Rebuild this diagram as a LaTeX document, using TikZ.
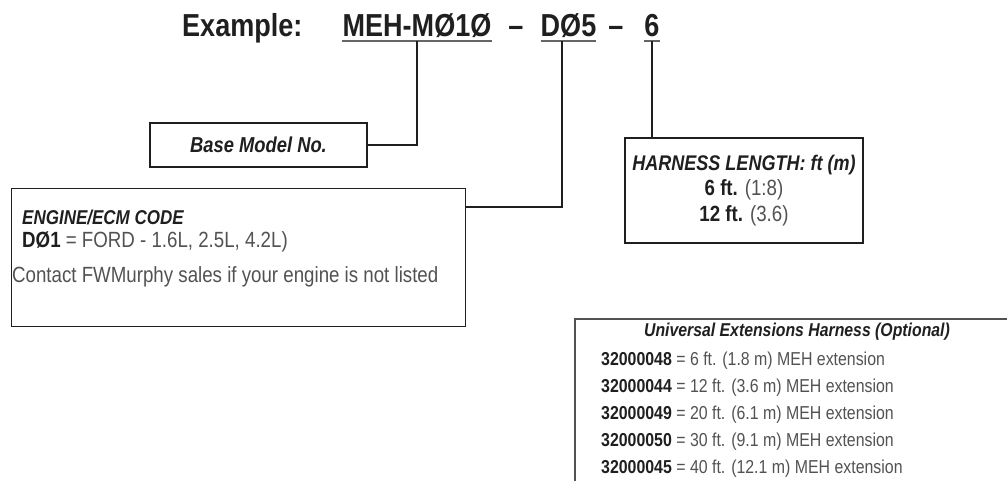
\documentclass[tikz,border=0pt]{standalone}
\usepackage{fontspec}
\setmainfont{Liberation Sans}[FakeStretch=0.85]
\usepackage{tikz}
\usetikzlibrary{calc}
\definecolor{ink}{gray}{0.12}
\definecolor{soft}{gray}{0.32}
\definecolor{rule}{gray}{0.40}
\newcommand{\partno}[1]{\textcolor{ink}{\bfseries #1}}
\tikzset{
  codetxt/.style={font=\fontsize{31.8}{36}\selectfont\bfseries, text=ink,
                  inner xsep=0pt, inner ysep=4pt, text depth=0pt},
  box/.style={draw=ink, line width=1.4pt, inner sep=0pt, align=center},
  xbox/.style={draw=soft, line width=2.2pt, inner sep=0pt},
  hdr/.style={font=\fontsize{20}{24}\selectfont\bfseries\itshape, text=ink, inner sep=0pt},
  txt/.style={font=\fontsize{22}{26}\selectfont, text=soft, inner sep=0pt},
  rowtxt/.style={font=\fontsize{18.7}{22}\selectfont, text=soft, inner sep=0pt, anchor=base west},
  wire/.style={draw=ink, line width=1.6pt},
  uline/.style={draw=rule, line width=1.8pt},
}

\begin{document}
\begin{tikzpicture}[x=1pt, y=-1pt]
  \useasboundingbox (0,0) rectangle (1007,481);
  \clip (0,0) rectangle (1007,481);

  % part number
  \node[codetxt, anchor=base west] (ex) at (182,37) {Example:};
  \node[codetxt, anchor=base] (mcode) at (417,37) {MEH-MØ1Ø};
  \node[codetxt, anchor=base] (dash1) at (516,37) {–};
  \node[codetxt, anchor=base] (dcode) at (568.5,37) {DØ5};
  \node[codetxt, anchor=base] (dash2) at (616,37) {–};
  \node[codetxt, anchor=base] (lcode) at (652,37) {6};
  \foreach \n in {mcode,dcode,lcode}
    \draw[uline] (\n.south west) -- (\n.south east);

  % boxes
  \node[box, minimum width=217pt, minimum height=44pt,
        font=\fontsize{21.6}{26}\selectfont\bfseries\itshape, text=ink] (base) at (258.5,145) {Base Model No.};

  \node[box, anchor=north west, minimum width=454pt, minimum height=138pt] (engine) at (11,188) {};
  \node[hdr, anchor=base west] (engtitle) at (22,225) {ENGINE/ECM CODE};
  \node[txt, anchor=base west] (engd01) at (22,248) {\partno{DØ1} = FORD - 1.6L, 2.5L, 4.2L)};
  \node[txt, anchor=base west] (engnote) at (12,283) {Contact FWMurphy sales if your engine is not listed};

  \node[box, minimum width=238pt, minimum height=105pt, text=soft,
        font=\fontsize{22}{25.5}\selectfont] (harness) at (744,190.5)
    {{\fontsize{21.2}{25.5}\selectfont\bfseries\itshape\color{ink}HARNESS LENGTH: ft (m)}\\
     \partno{6 ft.} (1:8)\\
     \partno{12 ft.} (3.6)};

  \node[xbox, anchor=north west, minimum width=460pt, minimum height=200pt] (ext) at (574,318) {};
  \node[hdr, anchor=base, font=\fontsize{18.6}{22}\selectfont\bfseries\itshape] (exttitle) at (797,336)
    {Universal Extensions Harness (Optional)};
  \foreach \pn/\len [count=\i] in {32000048/{6 ft. (1.8 m)}, 32000044/{12 ft. (3.6 m)},
      32000049/{20 ft. (6.1 m)}, 32000050/{30 ft. (9.1 m)}, 32000045/{40 ft. (12.1 m)}}
    \node[rowtxt] (row\i) at (601,337.8+27.2*\i) {\partno{\pn} = \len{} MEH extension};

  % leaders
  \draw[wire] (mcode.south) |- (base.east);
  \draw[wire] ([xshift=-6.5pt]dcode.south) |- ($(engine.north east)+(0,19)$);
  \draw[wire] (lcode.south) -- (lcode.south |- harness.north);
\end{tikzpicture}
\end{document}
